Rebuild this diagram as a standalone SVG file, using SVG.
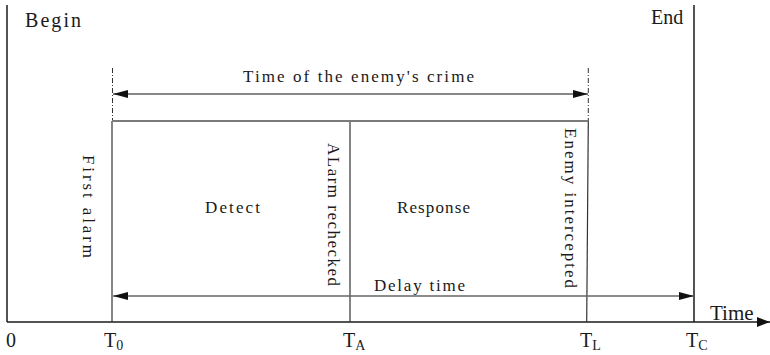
<svg xmlns="http://www.w3.org/2000/svg" width="770" height="355" viewBox="0 0 770 355">
  <style>
    .serif { font-family: "Liberation Serif", "Times New Roman", serif; fill: #1a1a1a; }
    .mono { font-family: "Liberation Serif", "Times New Roman", serif; font-size: 17px; fill: #1a1a1a; }
    .axis { stroke: #1a1a1a; stroke-width: 1.5; fill: none; }
    .mark { stroke: #333; stroke-width: 1.2; fill: none; }
    .gray { stroke: #7a7a7a; stroke-width: 1.8; fill: none; }
    .dash { stroke: #333; stroke-width: 1; stroke-dasharray: 5 2 1 2; fill: none; }
  </style>
  <defs>
    <marker id="head" viewBox="0 0 15 8" refX="15" refY="4" markerWidth="15" markerHeight="8" markerUnits="userSpaceOnUse" orient="auto-start-reverse">
      <path d="M0,0 L15,4 L0,8 Z" fill="#111"/>
    </marker>
    <marker id="axisHead" viewBox="0 0 13 10" refX="13" refY="5" markerWidth="13" markerHeight="10" markerUnits="userSpaceOnUse" orient="auto">
      <path d="M0,0 L13,5 L0,10 Z" fill="#111"/>
    </marker>
  </defs>

  <g id="axes">
    <line class="axis" x1="7" y1="5" x2="7" y2="322"/>
    <line class="axis" x1="7" y1="322" x2="770" y2="322" marker-end="url(#axisHead)"/>
    <text class="serif" x="25" y="27" font-size="20" textLength="56" lengthAdjust="spacing">Begin</text>
    <text class="serif" x="651" y="24" font-size="20">End</text>
    <text class="serif" x="710" y="320" font-size="21">Time</text>
    <text class="serif" x="6" y="347" font-size="20">0</text>
  </g>

  <g id="t0">
    <line class="mark" x1="112" y1="121" x2="112" y2="322"/>
    <line class="dash" x1="112.5" y1="68" x2="112.5" y2="121"/>
    <text class="serif" x="104" y="347" font-size="20">T<tspan font-size="14" dy="3">0</tspan></text>
    <text class="mono" transform="translate(83,155) rotate(90)" textLength="103" lengthAdjust="spacing">First alarm</text>
  </g>

  <g id="ta">
    <line class="mark" x1="350" y1="121" x2="350" y2="322"/>
    <text class="serif" x="343" y="347" font-size="20">T<tspan font-size="14" dy="3">A</tspan></text>
    <text class="mono" transform="translate(328,143) rotate(90)" textLength="143" lengthAdjust="spacing">ALarm rechecked</text>
  </g>

  <g id="tl">
    <line class="mark" x1="588.3" y1="121" x2="586.7" y2="322"/>
    <line class="dash" x1="588.3" y1="68" x2="588.3" y2="121"/>
    <text class="serif" x="580" y="347" font-size="20">T<tspan font-size="14" dy="3">L</tspan></text>
    <text class="mono" transform="translate(565,128) rotate(90)" textLength="160" lengthAdjust="spacing">Enemy intercepted</text>
  </g>

  <g id="tc">
    <line class="axis" x1="694" y1="5" x2="694" y2="322"/>
    <text class="serif" x="686" y="347" font-size="20">T<tspan font-size="14" dy="3">C</tspan></text>
  </g>

  <g id="phases">
    <line class="gray" x1="112" y1="121" x2="588.3" y2="121"/>
    <text class="mono" x="205" y="213" textLength="55" lengthAdjust="spacing">Detect</text>
    <text class="mono" x="397" y="213" textLength="73" lengthAdjust="spacing">Response</text>
  </g>

  <g id="connectors">
    <line stroke="#111" stroke-width="1.2" x1="113" y1="94" x2="588" y2="94" marker-start="url(#head)" marker-end="url(#head)"/>
    <text class="mono" x="243" y="82" textLength="231" lengthAdjust="spacing">Time of the enemy's crime</text>
    <line stroke="#666" stroke-width="1.5" x1="113" y1="296" x2="694" y2="296" marker-start="url(#head)" marker-end="url(#head)"/>
    <text class="mono" x="374" y="291" textLength="91" lengthAdjust="spacing">Delay time</text>
  </g>
</svg>
